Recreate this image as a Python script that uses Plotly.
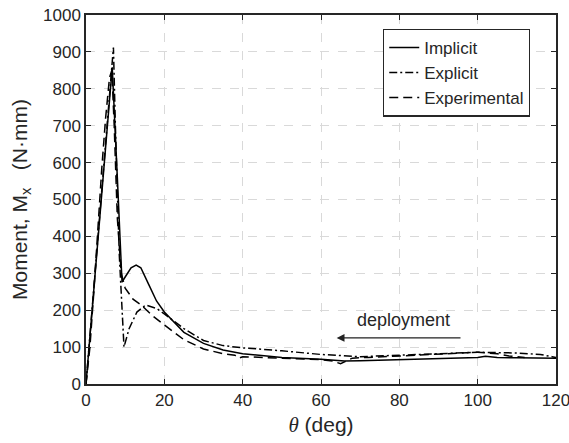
import plotly.graph_objects as go

# Implicit (solid)
imp_theta = [0, 3, 6.7, 8, 9.2, 10, 11.5, 12.8, 14, 16, 18, 20, 25, 30, 35, 40, 45, 50, 60, 66, 70, 80, 90, 100, 102, 105, 110, 120]
imp_m = [0, 390, 858, 560, 276, 290, 315, 322, 315, 270, 225, 195, 140, 110, 92, 82, 76, 72, 67, 62, 63, 66, 68, 72, 75, 72, 71, 70]

# Explicit (dash-dot)
exp_theta = [0, 2, 4, 6, 7, 7.5, 8.5, 9.7, 11, 13, 15.2, 18, 20, 25, 30, 35, 40, 50, 60, 70, 80, 90, 100, 110, 116, 119, 120]
exp_m = [0, 260, 540, 800, 912, 700, 350, 100, 150, 195, 214, 205, 190, 150, 118, 104, 98, 90, 80, 74, 78, 82, 86, 84, 80, 74, 72]

# Experimental (dashed)
ex_theta = [0, 1, 2, 3, 4, 5, 6, 6.6, 7.2, 8, 9, 10, 12, 14, 17, 20, 25, 30, 35, 38, 39, 40, 45, 50, 55, 60, 63, 65, 66, 68, 72, 80, 90, 95, 100, 105, 108, 112]
ex_m = [0, 100, 250, 420, 580, 720, 830, 850, 700, 450, 300, 260, 230, 215, 185, 160, 120, 95, 82, 78, 70, 74, 72, 70, 68, 66, 62, 55, 60, 70, 72, 76, 80, 84, 86, 82, 76, 72]

x_ticks = [0, 20, 40, 60, 80, 100, 120]
y_ticks = [0, 100, 200, 300, 400, 500, 600, 700, 800, 900, 1000]

fig = go.Figure()
fig.add_trace(go.Scatter(x=imp_theta, y=imp_m, mode="lines", name="Implicit",
                         line=dict(color="black", width=1.5, dash="solid")))
fig.add_trace(go.Scatter(x=exp_theta, y=exp_m, mode="lines", name="Explicit",
                         line=dict(color="black", width=1.5, dash="8px,3px,2px,3px")))
fig.add_trace(go.Scatter(x=ex_theta, y=ex_m, mode="lines", name="Experimental",
                         line=dict(color="black", width=1.5, dash="9px,5px")))

fig.add_annotation(x=64, y=125, ax=96, ay=125, xref="x", yref="y", axref="x", ayref="y",
                   showarrow=True, arrowhead=2, arrowsize=1.2, arrowwidth=1.3, arrowcolor="#222", text="")
fig.add_annotation(x=81, y=173, xref="x", yref="y", text="deployment", showarrow=False,
                   font=dict(size=18, color="#262626"))

axis_common = dict(showline=True, linecolor="#262626", linewidth=1.5, mirror="ticks",
                   ticks="inside", ticklen=5, tickcolor="#262626",
                   showgrid=True, gridcolor="#d9d9d9", griddash="dash", gridwidth=1,
                   zeroline=False, automargin=False, ticklabeloverflow="allow",
                   tickfont=dict(size=17, color="#262626"))

fig.update_xaxes(range=[0, 120], tickvals=x_ticks, **axis_common,
                 title=dict(text="<span style='font-family:Liberation Serif'><i>θ</i></span> (deg)",
                            font=dict(size=21, color="#262626"), standoff=8))
fig.update_yaxes(range=[0, 1000], tickvals=y_ticks, **axis_common,
                 title=dict(text="Moment, M<sub>x</sub>&nbsp;&nbsp;&nbsp;(N·mm)",
                            font=dict(size=21, color="#262626"), standoff=10))

fig.update_layout(
    width=569, height=443,
    margin=dict(l=86, r=13, t=15, b=59),
    plot_bgcolor="white", paper_bgcolor="white",
    font=dict(family="Liberation Sans, Arial, sans-serif", color="#262626"),
    showlegend=True,
    legend=dict(x=0.632, y=0.963, xanchor="left", yanchor="top",
                bgcolor="white", bordercolor="#262626", borderwidth=1.2,
                font=dict(size=17, color="#262626"), tracegroupgap=0,
                itemwidth=30),
)

fig.write_html("out.html", config={"displayModeBar": False},
               post_script="document.body.style.margin='0';document.body.style.overflow='hidden';")
